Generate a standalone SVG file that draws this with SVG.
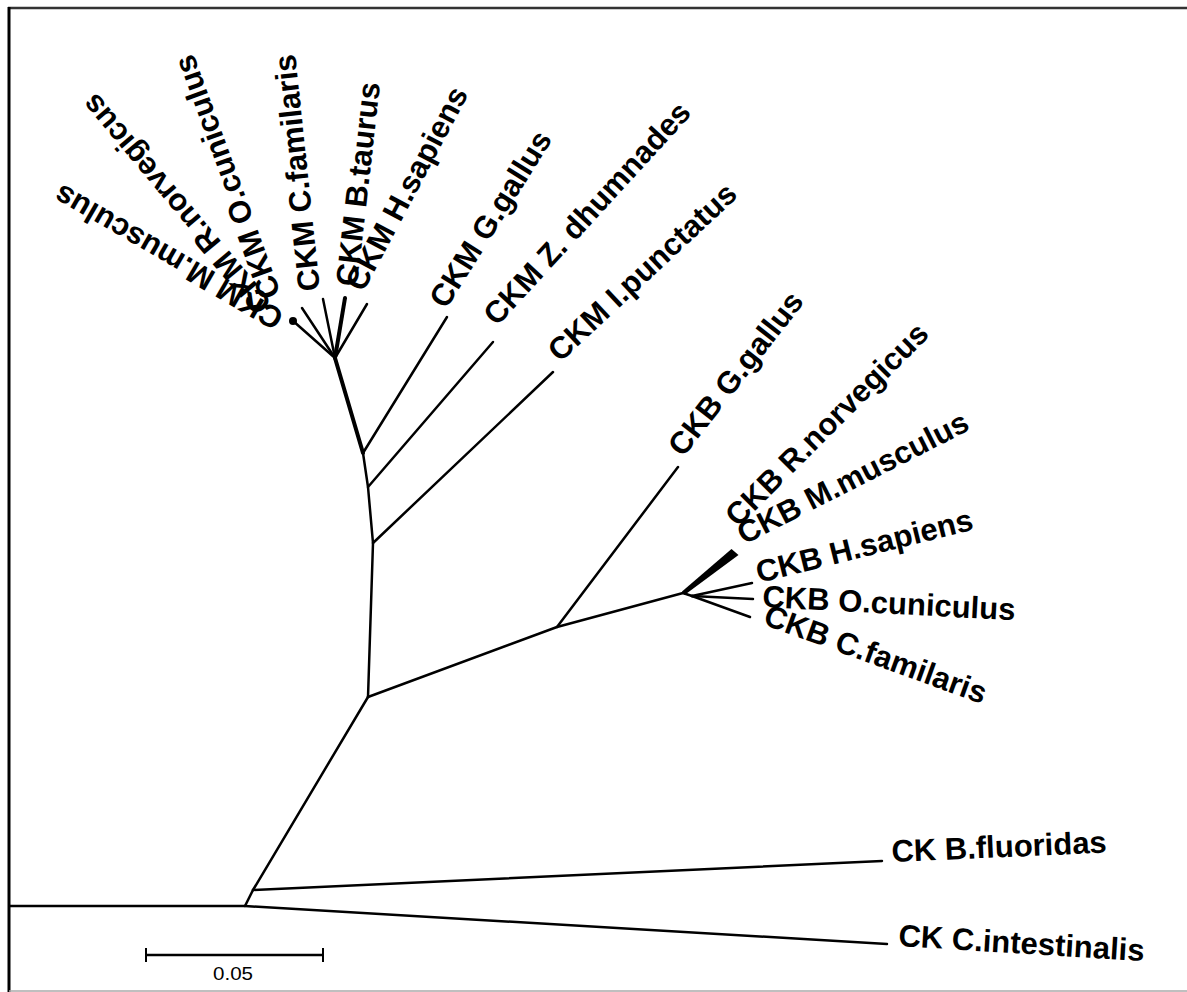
<svg xmlns="http://www.w3.org/2000/svg" width="1187" height="992" viewBox="0 0 1187 992">
<style>
.lbl{font-family:"Liberation Sans",Arial,sans-serif;font-weight:bold;font-size:31px;fill:#000}
.br{stroke:#000;stroke-width:2.5;fill:none;stroke-linecap:round;stroke-linejoin:round}
.thick{stroke-width:4}
.scale{font-family:"Liberation Sans",Arial,sans-serif;font-size:18px;fill:#000}
</style>
<rect width="1187" height="992" fill="#fff"/>
<g id="frame">
<line x1="8" y1="8" x2="1187" y2="8" stroke="#333" stroke-width="2.5"/>
<line x1="9" y1="7" x2="9" y2="992" stroke="#000" stroke-width="3"/>
<line x1="9" y1="991" x2="1187" y2="991" stroke="#aaa" stroke-width="1.5"/>
<line x1="9" y1="906" x2="245" y2="906" stroke="#000" stroke-width="2.5"/>
</g>
<g id="connectors">
<line class="br" x1="245" y1="906" x2="887" y2="944"/>
<line class="br" x1="245" y1="906" x2="253" y2="890"/>
<line class="br" x1="253" y1="890" x2="882" y2="861"/>
<line class="br" x1="253" y1="890" x2="368" y2="697"/>
<polyline class="br" points="368,697 557,627 683,593"/>
<line class="br" x1="557" y1="627" x2="678" y2="467"/>
<polygon points="682,591.5 684.5,595 738.5,555 731.5,549" fill="#000"/>
<line class="br" x1="683" y1="593" x2="692" y2="596"/>
<line class="br" x1="692" y1="596" x2="752" y2="583"/>
<line class="br" x1="692" y1="596" x2="753" y2="599"/>
<line class="br" x1="692" y1="596" x2="750" y2="617"/>
<polyline class="br" points="368,697 373,543 368,487 363,453"/>
<line class="br thick" x1="363" y1="453" x2="335" y2="358"/>
<line class="br" x1="373" y1="543" x2="553" y2="372"/>
<line class="br" x1="368" y1="487" x2="493" y2="342"/>
<line class="br" x1="363" y1="453" x2="447" y2="317"/>
<line class="br" x1="335" y1="358" x2="292" y2="320"/>
<circle cx="293" cy="321" r="4" fill="#000"/>
<line class="br" x1="335" y1="358" x2="302" y2="308"/>
<line class="br" x1="335" y1="358" x2="323" y2="299"/>
<line class="br thick" x1="335" y1="358" x2="345" y2="298"/>
<line class="br" x1="335" y1="358" x2="367" y2="304"/>
</g>
<g id="ckm-mmusculus"><text class="lbl" transform="translate(285.5,312.5) rotate(210)">CKM M.musculus</text></g>
<g id="ckm-rnorvegicus"><text class="lbl" transform="translate(273,303) rotate(230)">CKM R.norvegicus</text></g>
<g id="ckm-ocuniculus"><text class="lbl" transform="translate(281,294) rotate(250)">CKM O.cuniculus</text></g>
<g id="ckm-cfamilaris"><text class="lbl" transform="translate(320,290) rotate(-96)">CKM C.familaris</text></g>
<g id="ckm-btaurus"><text class="lbl" transform="translate(357,287) rotate(-83.5)">CKM B.taurus</text></g>
<g id="ckm-hsapiens"><text class="lbl" transform="translate(363,293) rotate(-62)">CKM H.sapiens</text></g>
<g id="ckm-ggallus"><text class="lbl" transform="translate(446,310) rotate(-58)">CKM G.gallus</text></g>
<g id="ckm-zdhumnades"><text class="lbl" transform="translate(497,327) rotate(-47.5)">CKM Z. dhumnades</text></g>
<g id="ckm-ipunctatus"><text class="lbl" transform="translate(560,363) rotate(-43)">CKM I.punctatus</text></g>
<g id="ckb-ggallus"><text class="lbl" transform="translate(683,458) rotate(-52)">CKB G.gallus</text></g>
<g id="ckb-rnorvegicus"><text class="lbl" transform="translate(738,528) rotate(-45)">CKB R.norvegicus</text></g>
<g id="ckb-mmusculus"><text class="lbl" transform="translate(744,545) rotate(-27)">CKB M.musculus</text></g>
<g id="ckb-hsapiens"><text class="lbl" transform="translate(759,583) rotate(-14)">CKB H.sapiens</text></g>
<g id="ckb-ocuniculus"><text class="lbl" transform="translate(762,607) rotate(3)">CKB O.cuniculus</text></g>
<g id="ckb-cfamilaris"><text class="lbl" transform="translate(762,624) rotate(20)">CKB C.familaris</text></g>
<g id="ck-bfluoridas"><text class="lbl" transform="translate(892,862) rotate(-2.5)">CK B.fluoridas</text></g>
<g id="ck-cintestinalis"><text class="lbl" transform="translate(898,946) rotate(3.5)">CK C.intestinalis</text></g>
<g id="scale-bar">
<line x1="146" y1="955" x2="323" y2="955" stroke="#000" stroke-width="2.5"/>
<line x1="146" y1="948" x2="146" y2="962" stroke="#000" stroke-width="2"/>
<line x1="323" y1="948" x2="323" y2="962" stroke="#000" stroke-width="2"/>
<text class="scale" x="233" y="980" text-anchor="middle" textLength="40" lengthAdjust="spacingAndGlyphs">0.05</text>
</g>
</svg>
